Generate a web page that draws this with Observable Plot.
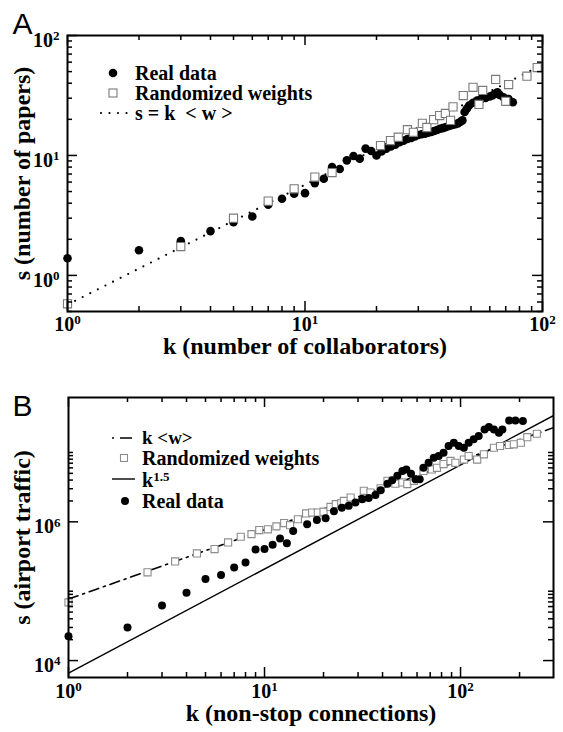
<!DOCTYPE html>
<html><head><meta charset="utf-8">
<script src="https://cdn.jsdelivr.net/npm/d3@7"></script>
<script src="https://cdn.jsdelivr.net/npm/@observablehq/plot@0.6"></script>
<style>
body{margin:0;background:#fff;width:563px;height:732px;overflow:hidden}
#chart svg{display:block}
</style></head><body><div id="chart"></div>
<script>
// ---------- Panel A (collaboration network) ----------
const aRealK = [1,2,3,4,5,6,7,8,9,10,11,12,13,14,15,16,17,18,19,20,21,22,23,24,25,26,27,28,29,30,31,32,33,34,35,36,37,38,39,40,41,42,43,44,45,46,47,48,49,51,53,55,57.6,60,61.5,63,64.6,66,68.5,72,75];
const aRealS = [1.39,1.62,1.93,2.34,2.78,3.1,3.88,4.35,4.8,4.85,5.88,6.4,8.0,7.7,9.1,9.9,9.4,11.4,10.9,10.0,10.8,11.4,11.9,12.3,12.9,13.3,13.7,14.0,14.4,14.8,15.0,15.2,15.5,15.7,16.0,16.3,16.7,16.9,17.2,17.5,17.8,18.0,18.2,18.5,19.0,19.6,23,24.5,26,27.5,28.7,29.5,30.2,31,31.6,32.5,33.6,32,30.6,29.5,27.8];
const aRandK = [1,3,5,7,9,11,13,20.8,22.9,24.7,27,28.6,31.2,32.6,34.8,36.9,39,41,42,46.4,51,54,56,63.5,70,72,86,95];
const aRandS = [0.58,1.74,3.0,4.16,5.27,6.6,7.2,12.1,13.3,14.2,16.4,15.6,18.5,17.1,19.9,21.5,22.4,19.6,25.4,31.6,37,26.6,34.8,43,28.3,39,45.8,54];
const aLineK = [1, 100];
const aLineS = [0.57, 57];
const aXTicks = [1, 10, 100];
const aYTicks = [1, 10, 100];

// ---------- Panel B (airport network) ----------
const bRealK = [1,2,3,4,5,6,7,8,9,10,11,12,13,14,16.5,18.5,20.5,22.6,24.8,26.9,29.1,31.5,34,36.8,39.1,42.4,44.8,47.6,50.5,52.9,55.9,58.9,61.9,64.7,68.7,73,77.3,81.9,86.9,92.4,98,104,110,116.7,123.8,132.6,139.5,148,157,163.5,177,190.5,208];
const bRealS = [2.24e4,3.0e4,6.2e4,9.5e4,1.5e5,1.71e5,2.2e5,2.6e5,4.0e5,4.05e5,4.67e5,5.75e5,4.93e5,7.4e5,9.2e5,1.06e6,1.13e6,1.42e6,1.6e6,1.7e6,1.9e6,2.12e6,2.2e6,2.44e6,2.86e6,3.55e6,3.98e6,4.6e6,5.4e6,5.7e6,4.95e6,4.1e6,4.1e6,6.0e6,7.1e6,8.4e6,8.9e6,9.9e6,1.24e7,1.38e7,1.24e7,1.17e7,1.38e7,1.55e7,1.73e7,2.15e7,2.33e7,2.15e7,1.93e7,2.15e7,2.9e7,2.9e7,2.84e7];
const bRandK = [1,2.53,3.5,4.52,5.56,6.52,7.56,8.58,9.4,10.4,11.5,12.6,13.5,14.8,16.3,17.5,18.7,20,21.7,23.1,24.6,25.4,27.5,32.1,34.7,39.1,42.4,46.5,50.5,53.5,57.8,64.7,71.4,75.8,81.9,88.9,94.1,104,110,121.6,131.5,148,159,176.4,187,203,219,245];
const bRandS = [6.9e4,1.87e5,2.69e5,3.5e5,4.05e5,5.05e5,6.1e5,6.65e5,7.6e5,7.8e5,8.6e5,9.6e5,8.95e5,1.09e6,1.32e6,1.36e6,1.36e6,1.4e6,1.64e6,1.8e6,1.85e6,2.0e6,2.24e6,2.8e6,2.64e6,3.05e6,3.9e6,3.55e6,3.7e6,3.5e6,3.9e6,5.4e6,5.7e6,6.0e6,6.8e6,7.55e6,7.1e6,7.9e6,8.9e6,7.9e6,9.4e6,1.17e7,1.24e7,1.28e7,1.31e7,1.38e7,1.66e7,1.86e7];
const bAvgK = [1, 300];
const bAvgS = [7.7e4, 2.3e7];
const bPowK = [1, 300];
const bPowS = [6.6e3, 3.43e7];
const bXTicks = [1, 10, 100];
const bYTicks = [1e4, 1e6];
const bYMinor = [2e4,3e4,4e4,5e4,6e4,7e4,8e4,9e4,1e5,2e6,3e6,4e6,5e6,6e6,7e6,8e6,9e6,1e7];

const SERIF = "Liberation Serif";
const SANS = "Liberation Sans";

function logMinor(lo, hi) {
  const out = [];
  for (let e = Math.floor(Math.log10(lo)) - 1; e <= Math.ceil(Math.log10(hi)); e++)
    for (let m = 2; m <= 9; m++) { const v = m * 10 ** e; if (v >= lo * 0.999 && v <= hi * 1.001) out.push(v); }
  return out;
}
const rows = (K, S) => K.map((k, i) => ({k, s: S[i]}));
const sup = d => "10^" + Math.round(Math.log10(d));

function tickMarks(xMaj, xMin, yMaj, yMin, fw, fh) {
  const M = 10, m = 5, sw = 1.5;
  return [
    Plot.tickX(xMaj, {x: d => d, insetTop: fh - M, stroke: "black", strokeWidth: sw}),
    Plot.tickX(xMaj, {x: d => d, insetBottom: fh - M, stroke: "black", strokeWidth: sw}),
    Plot.tickX(xMin, {x: d => d, insetTop: fh - m, stroke: "black", strokeWidth: sw}),
    Plot.tickX(xMin, {x: d => d, insetBottom: fh - m, stroke: "black", strokeWidth: sw}),
    Plot.tickY(yMaj, {y: d => d, insetRight: fw - M, stroke: "black", strokeWidth: sw}),
    Plot.tickY(yMaj, {y: d => d, insetLeft: fw - M, stroke: "black", strokeWidth: sw}),
    Plot.tickY(yMin, {y: d => d, insetRight: fw - m, stroke: "black", strokeWidth: sw}),
    Plot.tickY(yMin, {y: d => d, insetLeft: fw - m, stroke: "black", strokeWidth: sw})
  ];
}
function tickLabels(xT, yT, xdy) {
  return [
    Plot.text(xT, {x: d => d, frameAnchor: "bottom", dy: xdy, textAnchor: "middle", text: sup, fontSize: 20, fontWeight: "bold", fontFamily: SERIF}),
    Plot.text(yT, {y: d => d, frameAnchor: "left", dx: -8, dy: 5, textAnchor: "end", text: sup, fontSize: 20, fontWeight: "bold", fontFamily: SERIF})
  ];
}
function supify(svg) {
  d3.select(svg).selectAll("text").each(function() {
    const t = this.textContent;
    if (!t.includes("^")) return;
    const [base, ex] = t.split("^");
    const el = d3.select(this);
    el.text(null);
    el.append("tspan").text(base);
    el.append("tspan").attr("dy", "-0.5em").attr("font-size", "13px").text(ex);
  });
}

// ---------- Build panel A ----------
const AW = 563, AH = 365, aML = 67, aMR = 21, aMT = 35, aMB = 54;
const aFW = AW - aML - aMR, aFH = AH - aMT - aMB;
const plotA = Plot.plot({
  width: AW, height: AH, marginLeft: aML, marginRight: aMR, marginTop: aMT, marginBottom: aMB,
  style: {fontFamily: SERIF, background: "white", overflow: "visible"},
  x: {type: "log", domain: [1, 100], axis: null},
  y: {type: "log", domain: [0.5, 100], axis: null},
  marks: [
    Plot.line(rows(aLineK, aLineS), {x: "k", y: "s", stroke: "black", strokeWidth: 2.2, strokeDasharray: "0,8.5", strokeLinecap: "round", clip: true}),
    Plot.dot(rows(aRealK, aRealS), {x: "k", y: "s", r: 4.3, fill: "black", stroke: "none"}),
    Plot.dot(rows(aRandK, aRandS), {x: "k", y: "s", symbol: "square", r: 4.6, fill: "white", stroke: "#7a7a7a", strokeWidth: 1.1}),
    ...tickMarks(aXTicks, logMinor(1, 100), aYTicks, logMinor(0.5, 100), aFW, aFH),
    Plot.frame({stroke: "black", strokeWidth: 2}),
    ...tickLabels(aXTicks, aYTicks, 19),
    Plot.text(["k (number of collaborators)"], {frameAnchor: "bottom", dy: 42, textAnchor: "middle", fontSize: 24, fontWeight: "bold", fontFamily: SERIF}),
    Plot.text(["s (number of papers)"], {frameAnchor: "left", dx: -45, rotate: -90, textAnchor: "middle", fontSize: 24, fontWeight: "bold", fontFamily: SERIF}),
    Plot.text(["A"], {frameAnchor: "top-left", dx: -55, dy: -2, textAnchor: "start", lineAnchor: "bottom", fontSize: 30, fontFamily: SANS})
  ]
});

// ---------- Build panel B ----------
const BW = 563, BH = 367, bML = 68, bMR = 10, bMT = 32, bMB = 55;
const bFW = BW - bML - bMR, bFH = BH - bMT - bMB;
const plotB = Plot.plot({
  width: BW, height: BH, marginLeft: bML, marginRight: bMR, marginTop: bMT, marginBottom: bMB,
  style: {fontFamily: SERIF, background: "white", overflow: "visible"},
  x: {type: "log", domain: [1, 298], axis: null},
  y: {type: "log", domain: [5.7e3, 6.2e7], axis: null},
  marks: [
    Plot.line(rows(bAvgK, bAvgS), {x: "k", y: "s", stroke: "black", strokeWidth: 1.6, strokeDasharray: "10,5,2,5", clip: true}),
    Plot.line(rows(bPowK, bPowS), {x: "k", y: "s", stroke: "black", strokeWidth: 1.4, clip: true}),
    Plot.dot(rows(bRandK, bRandS), {x: "k", y: "s", symbol: "square", r: 4, fill: "white", stroke: "#8c8c8c", strokeWidth: 1.1}),
    Plot.dot(rows(bRealK, bRealS), {x: "k", y: "s", r: 4, fill: "black", stroke: "none"}),
    ...tickMarks(bXTicks, logMinor(1, 298), bYTicks, bYMinor, bFW, bFH),
    Plot.frame({stroke: "black", strokeWidth: 2}),
    ...tickLabels(bXTicks, bYTicks, 20),
    Plot.text(["k (non-stop connections)"], {frameAnchor: "bottom", dy: 43, textAnchor: "middle", fontSize: 24, fontWeight: "bold", fontFamily: SERIF}),
    Plot.text(["s (airport traffic)"], {frameAnchor: "left", dx: -46, rotate: -90, textAnchor: "middle", fontSize: 24, fontWeight: "bold", fontFamily: SERIF}),
    Plot.text(["B"], {frameAnchor: "top-left", dx: -56, dy: 18, textAnchor: "start", lineAnchor: "bottom", fontSize: 30, fontFamily: SANS})
  ]
});

supify(plotA); supify(plotB);

// ---------- Legends ----------
function legendText(g, x, y, str, exp, size = 20) {
  const t = g.append("text").attr("x", x).attr("y", y).attr("text-anchor", "start").attr("font-family", SERIF).attr("font-weight", "bold")
    .attr("font-size", size).attr("fill", "black").style("white-space", "pre").text(str);
  if (exp) t.append("tspan").attr("dy", "-0.5em").attr("font-size", "13px").text(exp);
}
{
  const g = d3.select(plotA).append("g");
  g.append("circle").attr("cx", 113).attr("cy", 73).attr("r", 4.3).attr("fill", "black");
  legendText(g, 135, 80, "Real data");
  g.append("rect").attr("x", 109).attr("y", 89).attr("width", 8).attr("height", 8).attr("fill", "white").attr("stroke", "#7a7a7a").attr("stroke-width", 1.1);
  legendText(g, 135, 100, "Randomized weights");
  g.append("line").attr("x1", 101).attr("x2", 127).attr("y1", 113).attr("y2", 113).attr("stroke", "black").attr("stroke-width", 2.2).attr("stroke-dasharray", "0,8.5").attr("stroke-linecap", "round");
  legendText(g, 135, 120, "s = k  < w >");
}
{
  const g = d3.select(plotB).append("g");
  const oy = -365; // panel B svg starts at page y=365
  g.append("line").attr("x1", 112).attr("x2", 134).attr("y1", 438 + oy).attr("y2", 438 + oy).attr("stroke", "black").attr("stroke-width", 1.6).attr("stroke-dasharray", "2,6,12");
  legendText(g, 142, 444 + oy, "k <w>", null, 19);
  g.append("rect").attr("x", 120.5).attr("y", 454.5 + oy).attr("width", 7).attr("height", 7).attr("fill", "white").attr("stroke", "#8c8c8c").attr("stroke-width", 1.1);
  legendText(g, 142, 465 + oy, "Randomized weights");
  g.append("line").attr("x1", 112).attr("x2", 135).attr("y1", 479 + oy).attr("y2", 479 + oy).attr("stroke", "black").attr("stroke-width", 1.4);
  legendText(g, 142, 487 + oy, "k", "1.5");
  g.append("circle").attr("cx", 125).attr("cy", 501 + oy).attr("r", 4).attr("fill", "black");
  legendText(g, 142, 508 + oy, "Real data");
}

document.getElementById("chart").append(plotA, plotB);
</script>
</body></html>
